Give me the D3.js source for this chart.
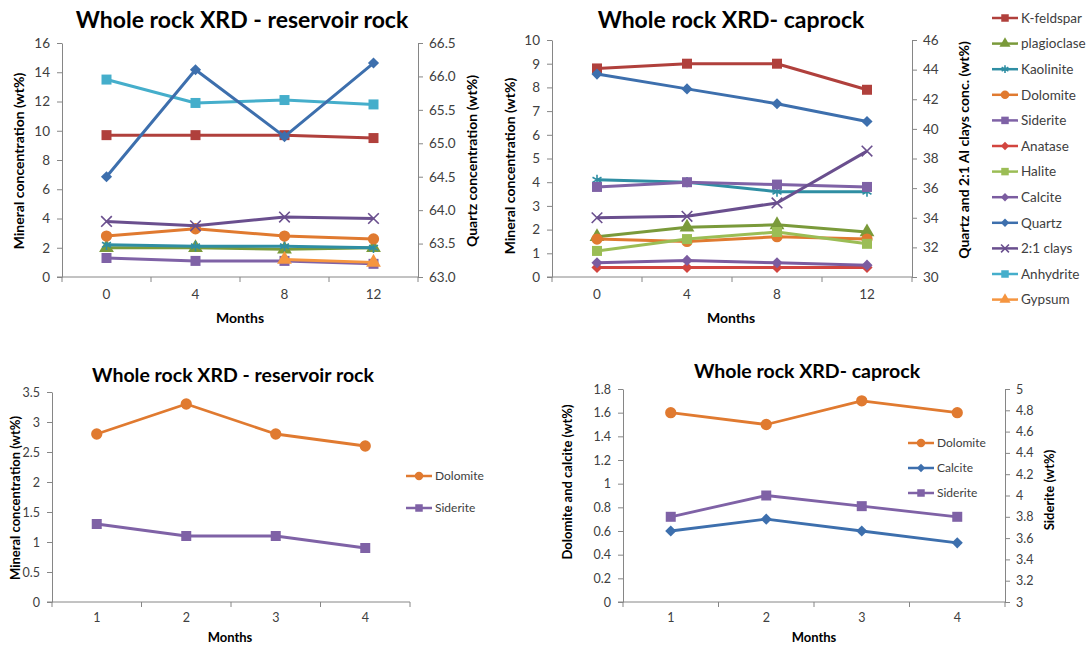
<!DOCTYPE html>
<html>
<head>
<meta charset="utf-8">
<script src="https://cdnjs.cloudflare.com/ajax/libs/d3/7.8.5/d3.min.js"></script>
<style>
  body { margin: 0; background: #fff; }
  svg { display: block; font-family: Lato, "Open Sans", sans-serif; }
  .tick text { fill: #404040; }
  .domain, .tick line { stroke: #868686; }
</style>
</head>
<body>
<svg width="1089" height="645"></svg>
<script>
// categories
var monthsTop = ["0", "4", "8", "12"];
var monthsBottom = ["1", "2", "3", "4"];

// reservoir rock, top chart
var resKfeldspar = [9.7, 9.7, 9.7, 9.5];
var resPlagioclase = [2.0, 2.0, 1.9, 2.0];
var resKaolinite = [2.2, 2.1, 2.1, 2.0];
var resDolomite = [2.8, 3.3, 2.8, 2.6];
var resSiderite = [1.3, 1.1, 1.1, 0.9];
var resQuartz = [64.5, 66.1, 65.1, 66.2];   // right axis
var resClays = [3.8, 3.5, 4.1, 4.0];
var resAnhydrite = [13.5, 11.9, 12.1, 11.8];
var resGypsum = [null, null, 1.2, 1.0];

// caprock, top chart
var capKfeldspar = [8.8, 9.0, 9.0, 7.9];
var capPlagioclase = [1.7, 2.1, 2.2, 1.9];
var capKaolinite = [4.1, 4.0, 3.6, 3.6];
var capDolomite = [1.6, 1.5, 1.7, 1.6];
var capSiderite = [3.8, 4.0, 3.9, 3.8];
var capAnatase = [0.4, 0.4, 0.4, 0.4];
var capHalite = [1.1, 1.6, 1.9, 1.4];
var capCalcite = [0.6, 0.7, 0.6, 0.5];
var capQuartz = [43.7, 42.7, 41.7, 40.5];   // right axis
var capClays = [34.0, 34.1, 35.0, 38.5];    // right axis

// bottom charts
var resDolomite2 = [2.8, 3.3, 2.8, 2.6];
var resSiderite2 = [1.3, 1.1, 1.1, 0.9];
var capDolomite2 = [1.6, 1.5, 1.7, 1.6];
var capCalcite2 = [0.6, 0.7, 0.6, 0.5];
var capSiderite2 = [3.8, 4.0, 3.9, 3.8];    // right axis

var legendNames = ["K-feldspar", "plagioclase", "Kaolinite", "Dolomite", "Siderite", "Anatase",
    "Halite", "Calcite", "Quartz", "2:1 clays", "Anhydrite", "Gypsum"];

var style = {
    "K-feldspar": { color: "#b0403c", marker: "square" },
    "plagioclase": { color: "#7a9a3a", marker: "triangle" },
    "Kaolinite": { color: "#2f8ea3", marker: "asterisk" },
    "Dolomite": { color: "#e07a30", marker: "circle" },
    "Siderite": { color: "#7f62a6", marker: "square" },
    "Anatase": { color: "#d2453f", marker: "diamond" },
    "Halite": { color: "#9bbd55", marker: "square" },
    "Calcite": { color: "#7b5ca0", marker: "diamond" },
    "Quartz": { color: "#3d6fad", marker: "diamond" },
    "2:1 clays": { color: "#6a4f8e", marker: "x" },
    "Anhydrite": { color: "#45aecb", marker: "square" },
    "Gypsum": { color: "#f59540", marker: "triangle" }
};
// the lower caprock chart draws calcite in blue
var calciteBlue = { color: "#3d6fad", marker: "diamond" };

var svg = d3.select("svg");

function rng(a, b, s) {
    return d3.range(a, b + s / 2, s).map(function (v) { return +v.toFixed(2); });
}

function drawMarker(g, type, x, y, k, color) {
    var sizes = { square: 100, diamond: 62, triangle: 95, circle: 100, asterisk: 75, x: 75 };
    var sym = {
        square: d3.symbolSquare, diamond: d3.symbolSquare, triangle: d3.symbolTriangle,
        circle: d3.symbolCircle, asterisk: d3.symbolAsterisk, x: d3.symbolTimes
    };
    var p = g.append("path")
        .attr("d", d3.symbol(sym[type], sizes[type] * k * k)())
        .attr("transform", "translate(" + x + "," + y + ")" + (type == "diamond" ? " rotate(45)" : ""));
    if (type == "asterisk" || type == "x") {
        p.attr("fill", "none").attr("stroke", color).attr("stroke-width", 1.6);
    } else {
        p.attr("fill", color);
    }
}

function drawPanel(cfg) {
    var g = svg.append("g");
    var x = d3.scaleBand().domain(cfg.cats).range([cfg.left, cfg.right]);
    var yL = d3.scaleLinear().domain(cfg.yL).range([cfg.bottom, cfg.top]);
    var yR = cfg.yR ? d3.scaleLinear().domain(cfg.yR).range([cfg.bottom, cfg.top]) : null;

    // left axis
    g.append("g")
        .attr("transform", "translate(" + cfg.left + ",0)")
        .call(d3.axisLeft(yL).tickValues(cfg.yLTicks).tickSize(5).tickPadding(7)
            .tickFormat(cfg.yLFormat).tickSizeOuter(0))
        .style("font-size", cfg.tickFont + "px")
        .style("font-family", "inherit");

    if (yR) {
        g.append("g")
            .attr("transform", "translate(" + cfg.right + ",0)")
            .call(d3.axisRight(yR).tickValues(cfg.yRTicks).tickSize(5).tickPadding(6)
                .tickFormat(cfg.yRFormat).tickSizeOuter(0))
            .style("font-size", cfg.tickFont + "px")
            .style("font-family", "inherit");
    }

    // category axis, ticks between categories
    var xa = g.append("g")
        .attr("transform", "translate(0," + cfg.bottom + ")")
        .call(d3.axisBottom(x).tickSize(0).tickPadding(cfg.xPad).tickSizeOuter(0))
        .style("font-size", cfg.tickFont + "px")
        .style("font-family", "inherit");
    xa.select(".domain").attr("d", "M" + (cfg.left - 5) + ",0H" + cfg.right);
    xa.selectAll(".bound")
        .data(d3.range(cfg.cats.length + 1))
        .enter().append("line")
        .attr("class", "bound")
        .attr("x1", function (i) { return cfg.left + i * x.step(); })
        .attr("x2", function (i) { return cfg.left + i * x.step(); })
        .attr("y1", 0).attr("y2", 5)
        .attr("stroke", "#868686");

    // series
    var cx = function (i) { return x(cfg.cats[i]) + x.bandwidth() / 2; };
    cfg.series.forEach(function (s) {
        var st = s.style || style[s.name];
        var ys = s.axis == "right" ? yR : yL;
        var pts = s.values.map(function (v, i) { return [i, v]; })
            .filter(function (d) { return d[1] != null; });
        var line = d3.line()
            .x(function (d) { return cx(d[0]); })
            .y(function (d) { return ys(d[1]); });
        g.append("path")
            .datum(pts)
            .attr("d", line)
            .attr("fill", "none")
            .attr("stroke", st.color)
            .attr("stroke-width", cfg.lineW)
            .attr("stroke-linejoin", "round");
        pts.forEach(function (d) {
            drawMarker(g, st.marker, cx(d[0]), ys(d[1]), cfg.mk, st.color);
        });
    });

    // titles
    g.append("text")
        .attr("x", cfg.titleX).attr("y", cfg.titleY)
        .attr("text-anchor", "middle")
        .style("font-size", cfg.titleFont + "px").style("font-weight", "bold")
        .text(cfg.title);
    g.append("text")
        .attr("x", cfg.monthsX).attr("y", cfg.monthsY)
        .attr("text-anchor", "middle")
        .style("font-size", cfg.labelFont + "px").style("font-weight", "bold")
        .text("Months");
    g.append("text")
        .attr("transform", "translate(" + cfg.yLTitle[0] + "," + cfg.yLTitle[1] + ") rotate(-90)")
        .attr("text-anchor", "middle")
        .style("font-size", cfg.labelFont + "px").style("font-weight", "bold")
        .text(cfg.yLLabel);
    if (cfg.yRLabel) {
        g.append("text")
            .attr("transform", "translate(" + cfg.yRTitle[0] + "," + cfg.yRTitle[1] + ") rotate(-90)")
            .attr("text-anchor", "middle")
            .style("font-size", cfg.labelFont + "px").style("font-weight", "bold")
            .text(cfg.yRLabel);
    }
}

function drawLegend(items, x0, y0, dy, fontSize) {
    var g = svg.append("g");
    items.forEach(function (it, i) {
        var n = typeof it == "string" ? it : it.name;
        var st = typeof it == "string" ? style[n] : it.style;
        var y = y0 + i * dy;
        g.append("line")
            .attr("x1", x0).attr("x2", x0 + 26)
            .attr("y1", y).attr("y2", y)
            .attr("stroke", st.color).attr("stroke-width", 2.5);
        drawMarker(g, st.marker, x0 + 13, y, 0.75, st.color);
        g.append("text")
            .attr("x", x0 + 29).attr("y", y)
            .attr("dy", "0.35em")
            .style("font-size", fontSize + "px")
            .attr("fill", "#404040")
            .text(n);
    });
}

drawPanel({
    cats: monthsTop, left: 62, right: 418, top: 43, bottom: 277,
    yL: [0, 16], yLTicks: rng(0, 16, 2), yLFormat: d3.format("d"),
    yR: [63, 66.5], yRTicks: rng(63, 66.5, 0.5), yRFormat: d3.format(".1f"),
    tickFont: 13.5, xPad: 12, lineW: 3, mk: 1,
    title: "Whole rock XRD - reservoir rock", titleX: 242, titleY: 28, titleFont: 23,
    monthsX: 240, monthsY: 323, labelFont: 14,
    yLLabel: "Mineral concentration (wt%)", yLTitle: [24, 161],
    yRLabel: "Quartz concentration (wt%)", yRTitle: [477, 161],
    series: [
        { name: "K-feldspar", values: resKfeldspar },
        { name: "plagioclase", values: resPlagioclase },
        { name: "Kaolinite", values: resKaolinite },
        { name: "Dolomite", values: resDolomite },
        { name: "Siderite", values: resSiderite },
        { name: "2:1 clays", values: resClays },
        { name: "Anhydrite", values: resAnhydrite },
        { name: "Gypsum", values: resGypsum },
        { name: "Quartz", values: resQuartz, axis: "right" }
    ]
});

drawPanel({
    cats: monthsTop, left: 552, right: 912, top: 40, bottom: 277,
    yL: [0, 10], yLTicks: rng(0, 10, 1), yLFormat: d3.format("d"),
    yR: [30, 46], yRTicks: rng(30, 46, 2), yRFormat: d3.format("d"),
    tickFont: 13.5, xPad: 12, lineW: 3, mk: 1,
    title: "Whole rock XRD- caprock", titleX: 731, titleY: 28, titleFont: 23,
    monthsX: 731, monthsY: 323, labelFont: 14,
    yLLabel: "Mineral concentration (wt%)", yLTitle: [515, 166],
    yRLabel: "Quartz and 2:1 Al clays conc. (wt%)", yRTitle: [969, 150],
    series: [
        { name: "K-feldspar", values: capKfeldspar },
        { name: "plagioclase", values: capPlagioclase },
        { name: "Kaolinite", values: capKaolinite },
        { name: "Dolomite", values: capDolomite },
        { name: "Siderite", values: capSiderite },
        { name: "Anatase", values: capAnatase },
        { name: "Halite", values: capHalite },
        { name: "Calcite", values: capCalcite },
        { name: "Quartz", values: capQuartz, axis: "right" },
        { name: "2:1 clays", values: capClays, axis: "right" }
    ]
});

drawLegend(legendNames, 992, 18, 25.6, 13.5);

drawPanel({
    cats: monthsBottom, left: 52, right: 410, top: 392, bottom: 602,
    yL: [0, 3.5], yLTicks: rng(0, 3.5, 0.5), yLFormat: d3.format("~g"),
    tickFont: 12.5, xPad: 11, lineW: 2.8, mk: 1,
    title: "Whole rock XRD - reservoir rock", titleX: 233, titleY: 382, titleFont: 19.5,
    monthsX: 230, monthsY: 642, labelFont: 13,
    yLLabel: "Mineral concentration (wt%)", yLTitle: [20, 498],
    series: [
        { name: "Dolomite", values: resDolomite2 },
        { name: "Siderite", values: resSiderite2 }
    ]
});
drawLegend(["Dolomite", "Siderite"], 406, 476, 32, 12);

drawPanel({
    cats: monthsBottom, left: 623, right: 1005, top: 389, bottom: 602,
    yL: [0, 1.8], yLTicks: rng(0, 1.8, 0.2), yLFormat: d3.format("~g"),
    yR: [3, 5], yRTicks: rng(3, 5, 0.2), yRFormat: d3.format("~g"),
    tickFont: 12.5, xPad: 11, lineW: 2.8, mk: 1,
    title: "Whole rock XRD- caprock", titleX: 807, titleY: 378, titleFont: 19.5,
    monthsX: 814, monthsY: 642, labelFont: 13,
    yLLabel: "Dolomite and calcite (wt%)", yLTitle: [572, 482],
    yRLabel: "Siderite (wt%)", yRTitle: [1054, 490],
    series: [
        { name: "Dolomite", values: capDolomite2 },
        { name: "Calcite", values: capCalcite2, style: calciteBlue },
        { name: "Siderite", values: capSiderite2, axis: "right" }
    ]
});
drawLegend(["Dolomite", { name: "Calcite", style: calciteBlue }, "Siderite"], 908, 443, 25, 12);
</script>
</body>
</html>
